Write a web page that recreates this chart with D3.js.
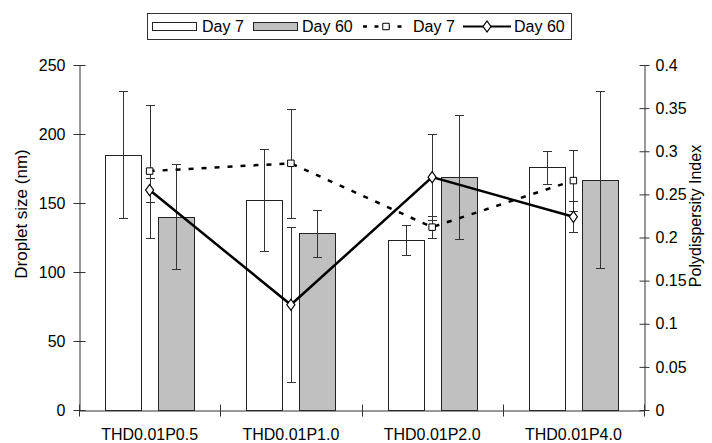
<!DOCTYPE html>
<html>
<head>
<meta charset="utf-8">
<script src="https://cdn.jsdelivr.net/npm/d3@7"></script>
<style>
  html, body { margin: 0; background: #fff; overflow: hidden; }
  svg { display: block; }
  svg text { font-family: "Liberation Sans", Arial, sans-serif; fill: #000; }
</style>
</head>
<body>
<div id="chart"></div>
<script>
'use strict';
(function(){

	// data
	var categories = ['THD0.01P0.5', 'THD0.01P1.0', 'THD0.01P2.0', 'THD0.01P4.0'];
	var sizeDay7 = [185, 152, 123, 176];
	var sizeDay7Err = [46, 37, 11, 12];
	var sizeDay60 = [140, 128, 169, 167];
	var sizeDay60Err = [38, 17, 45, 64];
	var pdiDay7 = [0.277, 0.286, 0.212, 0.266];
	var pdiDay7Err = [0.077, 0.063, 0.013, 0.035];
	var pdiDay60 = [0.255, 0.122, 0.270, 0.224];
	var pdiDay60Err = [0.014, 0.090, 0.050, 0.018];
	var sizeTicks = [0, 50, 100, 150, 200, 250];
	var pdiTicks = [0, 0.05, 0.1, 0.15, 0.2, 0.25, 0.3, 0.35, 0.4];
	var legendLabels = ['Day 7', 'Day 60', 'Day 7', 'Day 60'];

	var width = 712, height = 443;
	var left = 79, right = 644, top = 65, bottom = 410;
	var fontSize = 16;
	var axisColor = '#333';

	var svg = d3.select('#chart')
		.append('svg')
		.attr('width', width)
		.attr('height', height);

	// scales
	var x = d3.scaleBand().domain(categories).range([left, right]);
	var xSub = d3.scaleBand().domain(['d7', 'd60'])
		.range([0, x.bandwidth()])
		.paddingInner(0.32)
		.paddingOuter(0.49);
	var ySize = d3.scaleLinear().domain([0, 250]).range([bottom, top]);
	var yPdi = d3.scaleLinear().domain([0, 0.4]).range([bottom, top]);

	function center(i) {
		return x(categories[i]) + x.bandwidth() / 2;
	}

	// bars
	var barSeries = [
		{key: 'd7', values: sizeDay7, errs: sizeDay7Err, fill: '#fff'},
		{key: 'd60', values: sizeDay60, errs: sizeDay60Err, fill: '#c0c0c0'}
	];

	barSeries.forEach(function (s) {
		svg.append('g')
			.selectAll('rect')
			.data(s.values)
			.enter()
			.append('rect')
			.attr('x', function (d, i) { return Math.round(x(categories[i]) + xSub(s.key)) + 0.5; })
			.attr('y', function (d) { return Math.round(ySize(d)) + 0.5; })
			.attr('width', Math.round(xSub.bandwidth()))
			.attr('height', function (d) { return bottom - Math.round(ySize(d)); })
			.attr('fill', s.fill)
			.attr('stroke', '#222')
			.attr('stroke-width', 1);
	});

	// error bars: vertical line with caps, drawn into each group
	function errorBars(g, cx, err, scale) {
		var cap = 4.5;
		g.each(function (d, i) {
			var sel = d3.select(this);
			var xx = Math.round(cx(i)) + 0.5;
			var y1 = Math.round(scale(d + err[i])) + 0.5, y2 = Math.round(scale(d - err[i])) + 0.5;
			sel.append('line').attr('x1', xx).attr('x2', xx).attr('y1', y1).attr('y2', y2);
			sel.append('line').attr('x1', xx - cap).attr('x2', xx + cap).attr('y1', y1).attr('y2', y1);
			sel.append('line').attr('x1', xx - cap).attr('x2', xx + cap).attr('y1', y2).attr('y2', y2);
		});
	}

	barSeries.forEach(function (s) {
		svg.append('g')
			.attr('stroke', '#333')
			.attr('stroke-width', 1)
			.selectAll('g')
			.data(s.values)
			.enter()
			.append('g')
			.call(errorBars, function (i) {
				return x(categories[i]) + xSub(s.key) + xSub.bandwidth() / 2;
			}, s.errs, ySize);
	});

	// lines
	var lineSeries = [
		{values: pdiDay7, errs: pdiDay7Err, dash: '5,8', marker: 'square'},
		{values: pdiDay60, errs: pdiDay60Err, dash: null, marker: 'diamond'}
	];

	lineSeries.forEach(function (s) {
		svg.append('g')
			.attr('stroke', '#333')
			.attr('stroke-width', 1)
			.selectAll('g')
			.data(s.values)
			.enter()
			.append('g')
			.call(errorBars, center, s.errs, yPdi);
	});

	var line = d3.line()
		.x(function (d, i) { return center(i); })
		.y(function (d) { return yPdi(d); });

	lineSeries.forEach(function (s) {
		svg.append('path')
			.datum(s.values)
			.attr('d', line)
			.attr('fill', 'none')
			.attr('stroke', '#000')
			.attr('stroke-width', 2.5)
			.attr('stroke-dasharray', s.dash);
	});

	var squareSym = d3.symbol().type(d3.symbolSquare).size(42);
	var diamondSym = d3.symbol().type(d3.symbolDiamond).size(36);

	lineSeries.forEach(function (s) {
		svg.append('g')
			.selectAll('path')
			.data(s.values)
			.enter()
			.append('path')
			.attr('d', s.marker === 'square' ? squareSym : diamondSym)
			.attr('transform', function (d, i) {
				return 'translate(' + center(i) + ',' + yPdi(d) + ')' +
					(s.marker === 'diamond' ? ' scale(1.25,1)' : '');
			})
			.attr('fill', '#fff')
			.attr('stroke', '#000')
			.attr('stroke-width', 1);
	});

	// axes
	var leftAxis = svg.append('g')
		.attr('transform', 'translate(' + (left + 0.5) + ',0)')
		.call(d3.axisLeft(ySize).tickValues(sizeTicks).tickSize(6).tickSizeOuter(0).tickPadding(8));

	var rightAxis = svg.append('g')
		.attr('transform', 'translate(' + (right + 0.5) + ',0)')
		.call(d3.axisRight(yPdi).tickValues(pdiTicks).tickSize(5).tickSizeOuter(0).tickPadding(6)
			.tickFormat(function (d) { return String(d); }));

	leftAxis.selectAll('.tick line').attr('x1', 6);
	rightAxis.selectAll('.tick line').attr('x1', -5);

	var bottomAxis = svg.append('g')
		.attr('transform', 'translate(0,' + (bottom + 0.5) + ')')
		.call(d3.axisBottom(x).tickSize(0).tickSizeOuter(0).tickPadding(18));

	// category separators
	var bounds = categories.map(function (c) { return x(c); }).concat([right]);
	bottomAxis.selectAll('.sep')
		.data(bounds)
		.enter()
		.append('line')
		.attr('class', 'sep')
		.attr('x1', function (d) { return Math.round(d) + 0.5; })
		.attr('x2', function (d) { return Math.round(d) + 0.5; })
		.attr('y1', -6)
		.attr('y2', 6)
		.attr('stroke', axisColor);

	[leftAxis, rightAxis, bottomAxis].forEach(function (a) {
		a.selectAll('.domain').attr('stroke', axisColor);
		a.selectAll('.tick line').attr('stroke', axisColor);
		a.selectAll('text')
			.attr('font-size', fontSize)
			.attr('font-family', '"Liberation Sans", Arial, sans-serif')
			.attr('fill', '#000');
	});

	// axis titles
	svg.append('text')
		.attr('transform', 'translate(27,' + 214 + ') rotate(-90)')
		.attr('text-anchor', 'middle')
		.attr('font-size', 17)
		.text('Droplet size (nm)');

	svg.append('text')
		.attr('transform', 'translate(701,' + 216 + ') rotate(-90)')
		.attr('text-anchor', 'middle')
		.attr('font-size', fontSize)
		.text('Polydispersity Index');

	// legend
	var legend = svg.append('g');
	legend.append('rect')
		.attr('x', 147.5).attr('y', 13.5)
		.attr('width', 424).attr('height', 26)
		.attr('fill', '#fff')
		.attr('stroke', '#333');

	var legendX = [152, 253, 363, 463];
	var legendText = [202, 302, 413, 514];
	var ly = 26.5;

	legend.append('rect').attr('x', legendX[0] + 0.5).attr('y', 22.5).attr('width', 44).attr('height', 8)
		.attr('fill', '#fff').attr('stroke', '#222');
	legend.append('rect').attr('x', legendX[1] + 0.5).attr('y', 22.5).attr('width', 44).attr('height', 8)
		.attr('fill', '#c0c0c0').attr('stroke', '#222');
	legend.append('line').attr('x1', legendX[2]).attr('x2', legendX[2] + 45).attr('y1', ly).attr('y2', ly)
		.attr('stroke', '#000').attr('stroke-width', 2.5).attr('stroke-dasharray', '4,7.5');
	legend.append('path').attr('d', squareSym).attr('transform', 'translate(' + (legendX[2] + 23) + ',' + ly + ')')
		.attr('fill', '#fff').attr('stroke', '#000');
	legend.append('line').attr('x1', legendX[3]).attr('x2', legendX[3] + 48).attr('y1', ly).attr('y2', ly)
		.attr('stroke', '#000').attr('stroke-width', 2);
	legend.append('path').attr('d', diamondSym).attr('transform', 'translate(' + (legendX[3] + 24) + ',' + ly + ') scale(1.25,1)')
		.attr('fill', '#fff').attr('stroke', '#000');

	legend.selectAll('.lbl')
		.data(legendLabels)
		.enter()
		.append('text')
		.attr('class', 'lbl')
		.attr('x', function (d, i) { return legendText[i]; })
		.attr('y', ly)
		.attr('dy', '0.35em')
		.attr('font-size', fontSize)
		.text(function (d) { return d; });

}());
</script>
</body>
</html>
